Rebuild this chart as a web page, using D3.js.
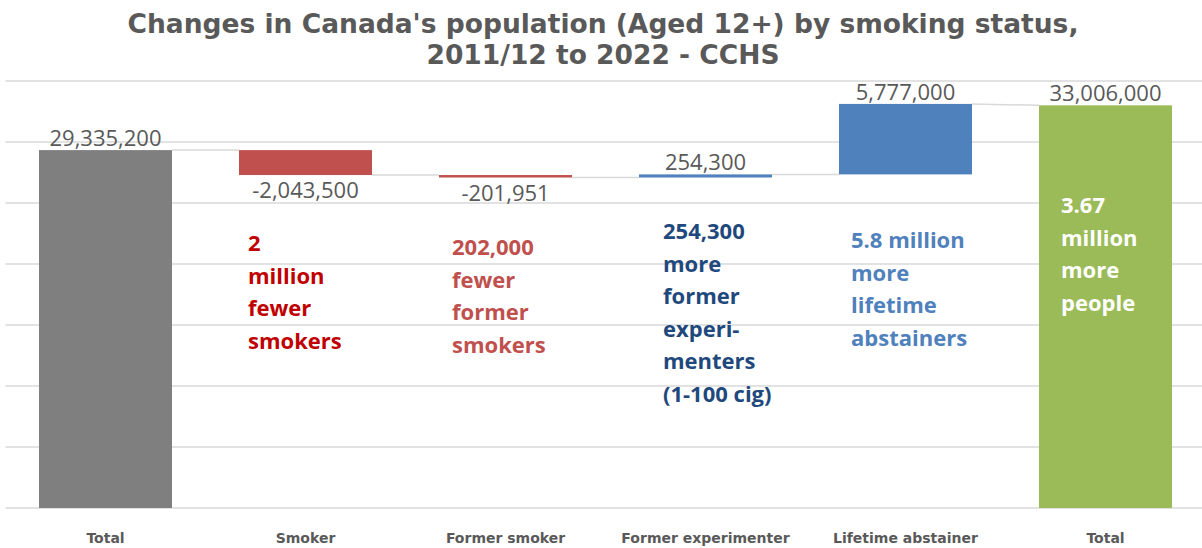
<!DOCTYPE html>
<html>
<head>
<meta charset="utf-8">
<script src="https://cdn.jsdelivr.net/npm/d3@7"></script>
<style>
  body { margin: 0; background: #fff; }
  svg { display: block; }
</style>
</head>
<body>
<svg width="1202" height="548"></svg>
<script>
// data
const categories = ["Total", "Smoker", "Former smoker", "Former experimenter", "Lifetime abstainer", "Total"];
const values = [29335200, -2043500, -201951, 254300, 5777000, 33006000];
const isTotal = [true, false, false, false, false, true];
const yTicks = [0, 5000000, 10000000, 15000000, 20000000, 25000000, 30000000, 35000000];
const titleLines = ["Changes in Canada's population (Aged 12+) by smoking status,", "2011/12 to 2022 - CCHS"];
const notes = [
  [],
  ["2", "million", "fewer", "smokers"],
  ["202,000", "fewer", "former", "smokers"],
  ["254,300", "more", "former", "experi-", "menters", "(1-100 cig)"],
  ["5.8 million", "more", "lifetime", "abstainers"],
  ["3.67", "million", "more", "people"]
];

// layout
const noteColors = [null, "#C00000", "#C0504D", "#1F497D", "#4F81BD", "#FFFFFF"];
const noteDx = [0, 9, 13, 24, 12, 22];
const noteY = [0, 251, 255, 239, 248, 213];
const noteStep = 32.5;

const svg = d3.select("svg");
const width = 1202, height = 548;
const plot = {left: 5.5, right: 1205.5, top: 81, bottom: 508};

const x = d3.scaleBand().domain(d3.range(categories.length))
  .range([plot.left, plot.right]).paddingInner(0.335).paddingOuter(0.1675);
const y = d3.scaleLinear().domain([0, 35000000]).range([plot.bottom, plot.top]);
const fmt = d3.formatLocale({decimal: ".", thousands: ",", grouping: [3], currency: ["", ""], minus: "-"}).format(",");

// waterfall steps
let run = 0;
const steps = values.map((v, i) => {
  let s;
  if (isTotal[i]) { s = {i, start: 0, end: v, value: v}; run = v; }
  else { s = {i, start: run, end: run + v, value: v}; run += v; }
  return s;
});

// title
svg.append("g").selectAll("text").data(titleLines).join("text")
  .attr("x", 603).attr("y", (d, i) => 33 + i * 31)
  .attr("text-anchor", "middle")
  .attr("font-family", "DejaVu Sans, sans-serif")
  .attr("font-weight", "bold").attr("font-size", 26.5)
  .attr("fill", "#595959").text(d => d);

// gridlines
svg.append("g").selectAll("line").data(yTicks).join("line")
  .attr("x1", plot.left).attr("x2", width)
  .attr("y1", d => y(d)).attr("y2", d => y(d))
  .attr("stroke", "#D9D9D9").attr("stroke-width", 1.5);

// connectors
svg.append("g").selectAll("line").data(steps.slice(1)).join("line")
  .attr("x1", d => x(d.i - 1) + x.bandwidth())
  .attr("x2", d => x(d.i))
  .attr("y1", d => y(steps[d.i - 1].end))
  .attr("y2", d => y(isTotal[d.i] ? d.end : d.start))
  .attr("stroke", "#D9D9D9").attr("stroke-width", 1.5);

const barColor = d => isTotal[d.i] ? (d.i === 0 ? "#7F7F7F" : "#9BBB59") : (d.value < 0 ? "#C0504D" : "#4F81BD");

svg.append("g").selectAll("rect").data(steps).join("rect")
  .attr("x", d => x(d.i))
  .attr("width", x.bandwidth())
  .attr("y", d => y(Math.max(d.start, d.end)))
  .attr("height", d => Math.max(2, Math.abs(y(d.start) - y(d.end))))
  .attr("fill", barColor);

// value labels
svg.append("g").selectAll("text").data(steps).join("text")
  .attr("x", d => x(d.i) + x.bandwidth() / 2)
  .attr("y", d => d.value < 0 ? y(d.end) + 23 : y(d.end) - 4)
  .attr("text-anchor", "middle")
  .attr("font-family", "Open Sans, sans-serif").attr("font-size", 22)
  .attr("fill", "#595959")
  .text(d => fmt(d.value));

// notes
const ng = svg.append("g").selectAll("g").data(notes).join("g");
ng.selectAll("text").data((d, i) => d.map(t => ({t, i}))).join("text")
  .attr("x", d => x(d.i) + noteDx[d.i])
  .attr("y", (d, j) => noteY[d.i] + j * noteStep)
  .attr("font-family", "Open Sans, sans-serif").attr("font-weight", "bold").attr("font-size", 22)
  .attr("fill", d => noteColors[d.i])
  .text(d => d.t);

// category axis
const xAxis = svg.append("g").attr("transform", `translate(0,${plot.bottom})`)
  .call(d3.axisBottom(x).tickSize(0).tickPadding(0).tickFormat(i => categories[i]));
xAxis.select(".domain").remove();
xAxis.selectAll("text")
  .attr("y", 35)
  .attr("dy", 0)
  .attr("font-family", "DejaVu Sans, sans-serif")
  .attr("font-weight", "bold").attr("font-size", 14)
  .attr("fill", "#595959");
</script>
</body>
</html>
